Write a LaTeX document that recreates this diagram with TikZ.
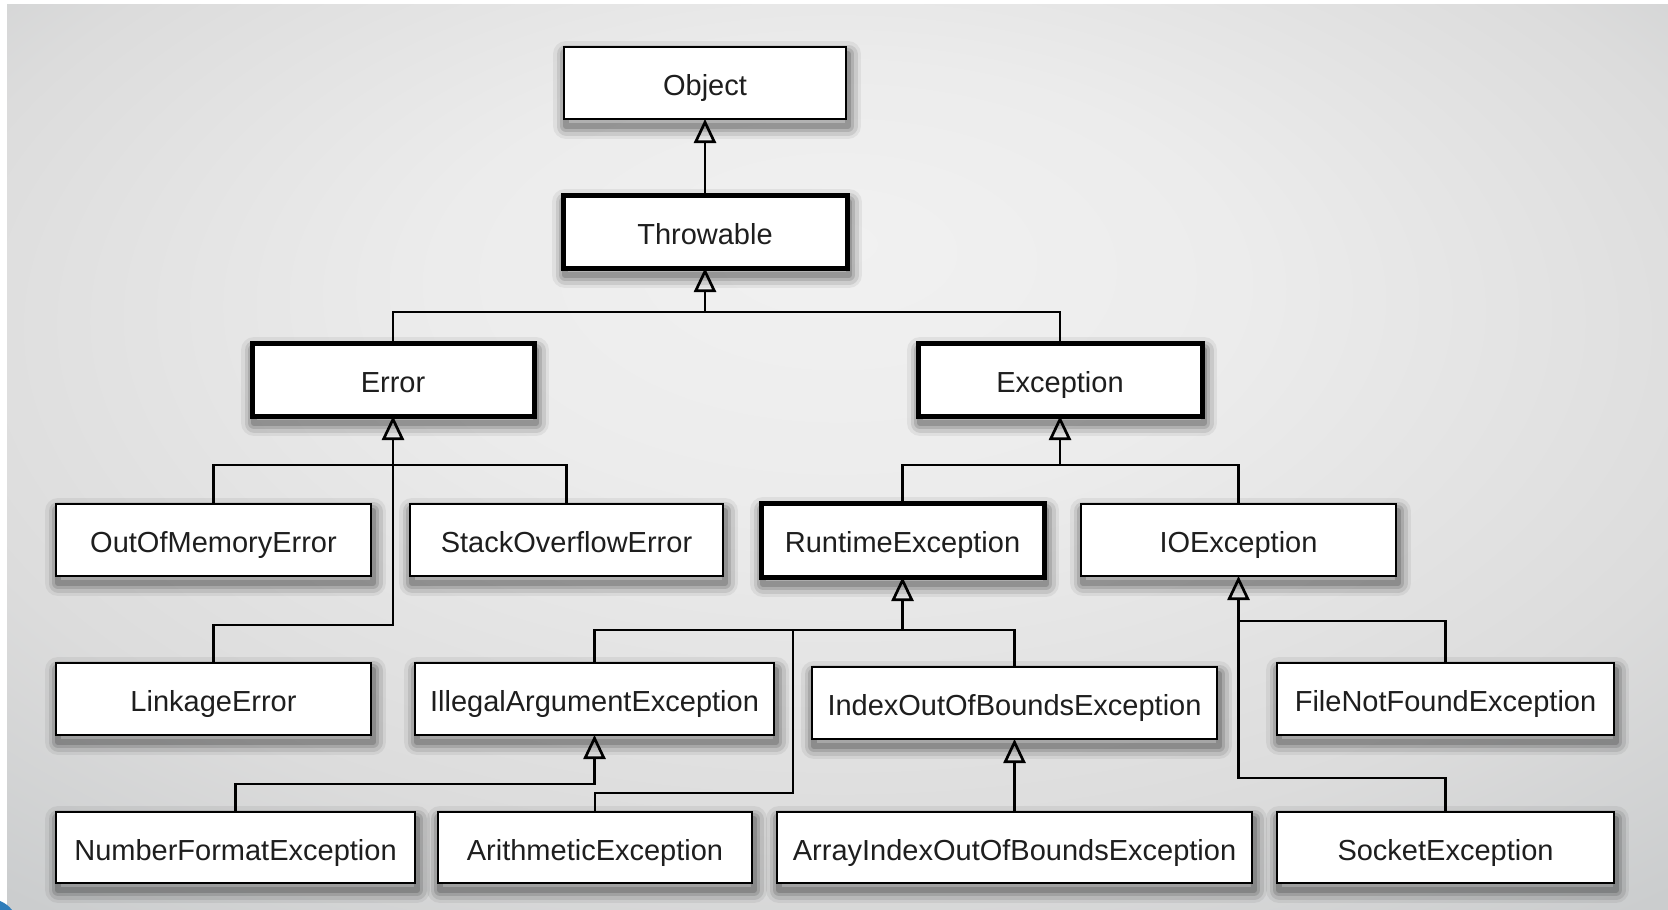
\documentclass[tikz,border=0pt]{standalone}
\usepackage{fontspec}
\setmainfont{Liberation Sans}
\usetikzlibrary{arrows.meta,backgrounds}
\definecolor{bgA}{HTML}{F1F1F1}
\definecolor{bgB}{HTML}{ECECEC}
\definecolor{bgC}{HTML}{DCDCDC}
\definecolor{bgD}{HTML}{CBCDCE}
\definecolor{bgE}{HTML}{C3C5C6}
\definecolor{txt}{HTML}{1E1E1E}
\definecolor{cornerblue}{HTML}{2F7DBA}
\pgfdeclareradialshading{bgshade}{\pgfpoint{0bp}{12bp}}{color(0bp)=(bgA); color(12bp)=(bgB); color(28bp)=(bgC); color(38bp)=(bgD); color(46bp)=(bgE); color(60bp)=(bgE)}
\begin{document}
\begin{tikzpicture}[x=1pt,y=-1pt,
  box/.style={draw=black, fill=white, line width=2.9pt, inner sep=0pt, outer sep=0pt,
    font=\fontsize{29}{34}\selectfont, text=txt, text height=25pt, text depth=0pt},
  boldbox/.style={box, line width=5pt},
  ln/.style={draw=black, line width=2.7pt},
  inh/.style={ln, -{Triangle[open, length=24pt, width=22pt, line width=2.7pt]}},
  shd/.style={draw=black, line join=round}
]
\useasboundingbox (0,0) rectangle (1668,910);
\begin{pgfonlayer}{background}
  \fill[white] (0,0) rectangle (1668,910);
  \shade[shading=bgshade] (7,4) rectangle (1668,910);
  \fill[cornerblue] (0,910) -- (0,901) .. controls (5,903) and (9,906) .. (12,910) -- cycle;
\end{pgfonlayer}

% nodes
\node[box, minimum width=282pt, minimum height=72pt] (obj) at (705,83) {Object};
\node[boldbox, minimum width=284pt, minimum height=73pt] (thr) at (705,231.5) {Throwable};
\node[boldbox, minimum width=282pt, minimum height=73pt] (err) at (393,379.5) {Error};
\node[boldbox, minimum width=284pt, minimum height=73pt] (exc) at (1060,379.5) {Exception};
\node[box, minimum width=315pt, minimum height=72pt] (oom) at (213.5,540) {OutOfMemoryError};
\node[box, minimum width=313pt, minimum height=72pt] (soe) at (566.5,540) {StackOverflowError};
\node[boldbox, minimum width=283pt, minimum height=74pt] (rte) at (902.5,540) {RuntimeException};
\node[box, minimum width=315pt, minimum height=72pt] (ioe) at (1238.5,540) {IOException};
\node[box, minimum width=315pt, minimum height=72pt] (lnk) at (213.5,699) {LinkageError};
\node[box, minimum width=359pt, minimum height=72pt] (iae) at (594.5,699) {IllegalArgumentException};
\node[box, minimum width=405pt, minimum height=72pt] (ioob) at (1014.5,703) {IndexOutOfBoundsException};
\node[box, minimum width=337pt, minimum height=72pt] (fnf) at (1445.5,699) {FileNotFoundException};
\node[box, minimum width=359pt, minimum height=71pt] (nfe) at (235.5,847.5) {NumberFormatException};
\node[box, minimum width=314pt, minimum height=71pt] (ari) at (595,847.5) {ArithmeticException};
\node[box, minimum width=475pt, minimum height=71pt] (aioob) at (1014.5,847.5) {ArrayIndexOutOfBoundsException};
\node[box, minimum width=337pt, minimum height=71pt] (soc) at (1445.5,847.5) {SocketException};

% shadows
\begin{pgfonlayer}{background}
\foreach \n in {obj,thr,err,exc,oom,soe,rte,ioe,lnk,iae,ioob,fnf,nfe,ari,aioob,soc}{
  \foreach \w/\o in {26/0.06, 19/0.09, 12/0.12, 6/0.16}{
    \draw[shd, line width=\w pt, draw opacity=\o]
      ([shift={(2pt,-7pt)}]\n.south west) rectangle ([shift={(2pt,-7pt)}]\n.north east);
  }
}
\end{pgfonlayer}

% connectors
\draw[inh] (thr.north) -- (obj.south);

\coordinate (j1) at (705,312);
\draw[ln] (err.north) |- (j1) -| (exc.north);
\draw[inh] (j1) -- (thr.south);

\coordinate (j2) at (393,465);
\draw[ln] (oom.north) |- (j2) -| (soe.north);
\coordinate (j3) at (393,625);
\draw[inh] (lnk.north) |- (j3) -- (err.south);

\coordinate (j4) at (1060,465);
\draw[ln] (rte.north) |- (j4) -| (ioe.north);
\draw[inh] (j4) -- (exc.south);

\coordinate (j5) at (902.5,630);
\draw[ln] (iae.north) |- (j5) -| (ioob.north);
\draw[inh] (j5) -- (rte.south);
\coordinate (j6) at (793,793);
\coordinate (j6b) at (793,630);
\draw[ln] (ari.north) |- (j6) -- (j6b);

\coordinate (j7) at (594.5,784);
\draw[inh] (nfe.north) |- (j7) -- (iae.south);

\draw[inh] (aioob.north) -- (ioob.south);

\coordinate (j8) at (1238.5,621);
\coordinate (j9) at (1238.5,778);
\draw[ln] (fnf.north) |- (j8);
\draw[inh] (soc.north) |- (j9) -- (ioe.south);
\end{tikzpicture}
\end{document}
